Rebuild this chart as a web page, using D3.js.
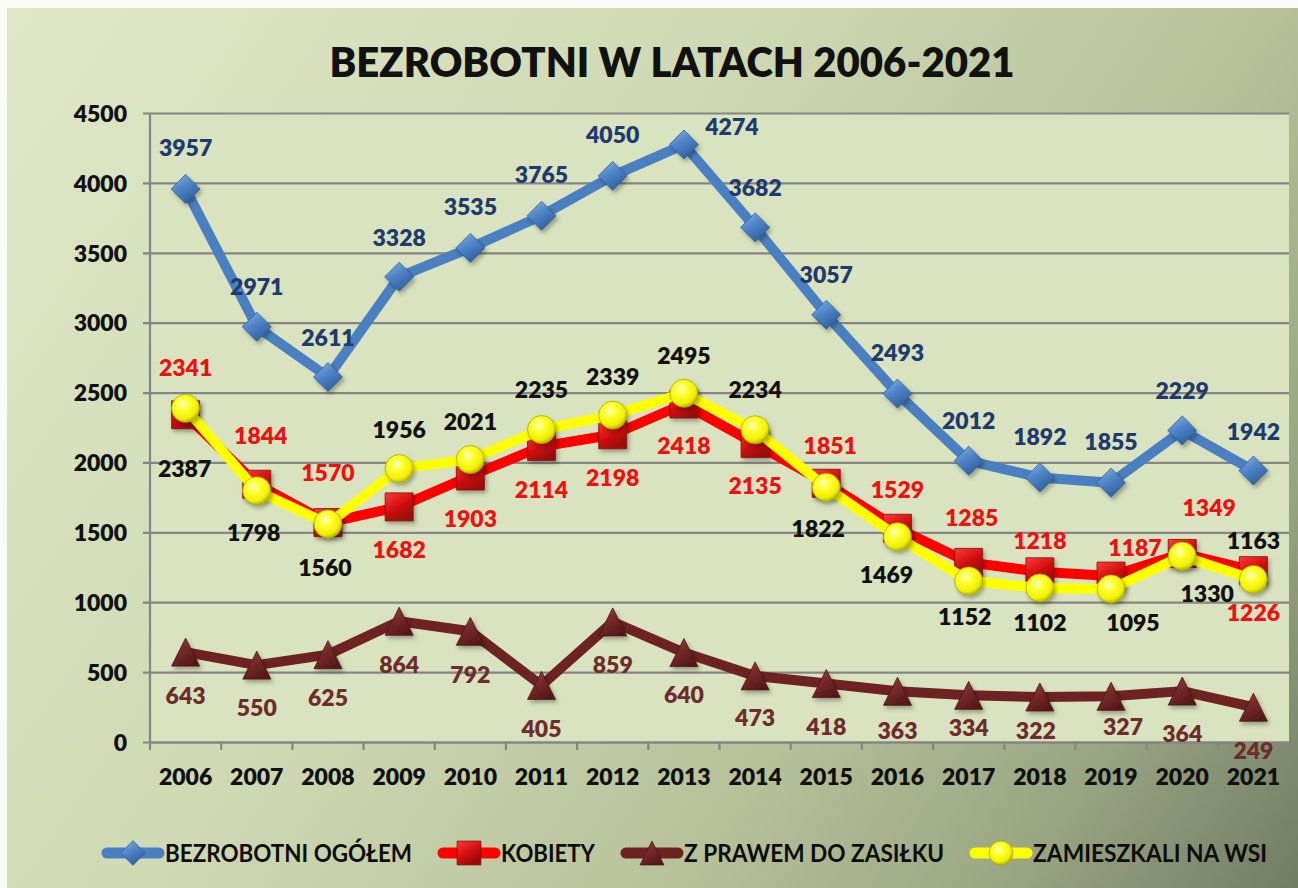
<!DOCTYPE html>
<html>
<head>
<meta charset="utf-8">
<script src="https://cdn.jsdelivr.net/npm/d3@7"></script>
<style>
  html, body { margin: 0; padding: 0; background: #fbfcf7; }
  svg { display: block; }
  text { font-family: Lato, "Open Sans", sans-serif; }
</style>
</head>
<body>
<div id="wrapper"></div>
<script>
// 1. Data

const years = ["2006", "2007", "2008", "2009", "2010", "2011", "2012", "2013",
  "2014", "2015", "2016", "2017", "2018", "2019", "2020", "2021"];

const ogolem = [3957, 2971, 2611, 3328, 3535, 3765, 4050, 4274, 3682, 3057, 2493, 2012, 1892, 1855, 2229, 1942];
const kobiety = [2341, 1844, 1570, 1682, 1903, 2114, 2198, 2418, 2135, 1851, 1529, 1285, 1218, 1187, 1349, 1226];
const zasilek = [643, 550, 625, 864, 792, 405, 859, 640, 473, 418, 363, 334, 322, 327, 364, 249];
const wies = [2387, 1798, 1560, 1956, 2021, 2235, 2339, 2495, 2234, 1822, 1469, 1152, 1102, 1095, 1330, 1163];

const yTicks = [0, 500, 1000, 1500, 2000, 2500, 3000, 3500, 4000, 4500];

const seriesNames = ["BEZROBOTNI OGÓŁEM", "KOBIETY", "Z PRAWEM DO ZASIŁKU", "ZAMIESZKALI NA WSI"];
const title = "BEZROBOTNI W LATACH 2006-2021";

// label placement (dx, dy from the point), copied from the original layout
const ogolemLabelPos = [[0,-41],[0,-40],[0,-39],[0,-39],[0,-41],[0,-41],[0,-41],[48,-18],
  [0,-40],[0,-40],[0,-41],[0,-40],[0,-41],[0,-41],[0,-40],[0,-39]];
const kobietyLabelPos = [[0,-47],[4,-49],[0,-50],[0,43],[0,43],[0,43],[0,43],[0,42],
  [0,42],[4,-38],[0,-39],[3,-45],[0,-31],[24,-28],[27,-46],[0,42]];
const zasilekLabelPos = [[0,44],[0,43],[0,43],[0,43],[0,43],[0,43],[0,43],[0,42],
  [0,42],[0,43],[0,39],[0,32],[-4,34],[12,30],[0,43],[0,44]];
const wiesLabelPos = [[-1,60],[-3,42],[-3,44],[0,-39],[0,-38],[0,-40],[0,-38],[0,-38],
  [0,-40],[-8,41],[-11,38],[-4,36],[0,35],[22,34],[25,38],[0,-39]];

// 2. Dimensions

const dimensions = {
  width: 1298,
  height: 888,
  margin: { top: 113, right: 9, bottom: 146, left: 150 },
};
dimensions.boundedWidth = dimensions.width - dimensions.margin.left - dimensions.margin.right;
dimensions.boundedHeight = dimensions.height - dimensions.margin.top - dimensions.margin.bottom;

// 3. Canvas

const svg = d3.select("#wrapper")
  .append("svg")
    .attr("width", dimensions.width)
    .attr("height", dimensions.height);

const defs = svg.append("defs");

const bgGrad = defs.append("linearGradient")
    .attr("id", "bg")
    .attr("gradientUnits", "userSpaceOnUse")
    .attr("x1", 0).attr("y1", 0)
    .attr("x2", dimensions.width).attr("y2", dimensions.height);
[[0, "#e0e8c8"], [0.4, "#cfd9b3"], [0.68, "#b6c19a"], [0.85, "#99a482"], [1, "#727c63"]]
  .forEach(([o, c]) => bgGrad.append("stop").attr("offset", o).attr("stop-color", c));

const addLinear = (id, stops) => {
  const g = defs.append("linearGradient").attr("id", id)
    .attr("x1", 0).attr("y1", 0).attr("x2", 0.6).attr("y2", 1);
  stops.forEach(([o, c]) => g.append("stop").attr("offset", o).attr("stop-color", c));
};
addLinear("gBlue", [[0, "#8ab4ea"], [0.5, "#4f84c8"], [1, "#2e5f9e"]]);
addLinear("gRed", [[0, "#ff3a3a"], [0.5, "#d81212"], [1, "#9a0808"]]);
addLinear("gBrown", [[0, "#96403e"], [0.5, "#772a2a"], [1, "#561818"]]);

const yel = defs.append("radialGradient").attr("id", "gYellow")
    .attr("cx", 0.4).attr("cy", 0.35).attr("r", 0.65);
[[0, "#ffffc8"], [0.35, "#ffff30"], [0.8, "#f0f000"], [1, "#b8b800"]]
  .forEach(([o, c]) => yel.append("stop").attr("offset", o).attr("stop-color", c));

defs.append("filter").attr("id", "shadow")
    .attr("x", "-50%").attr("y", "-50%").attr("width", "200%").attr("height", "200%")
  .append("feDropShadow")
    .attr("dx", 2).attr("dy", 3).attr("stdDeviation", 2)
    .attr("flood-color", "#000").attr("flood-opacity", 0.3);

svg.append("rect")
    .attr("x", 7).attr("y", 8)
    .attr("width", dimensions.width - 7).attr("height", dimensions.height - 8)
    .attr("fill", "url(#bg)");

svg.append("text")
    .attr("x", 672).attr("y", 62)
    .attr("dy", "0.36em")
    .attr("text-anchor", "middle")
    .attr("font-size", 42)
    .attr("font-weight", 800)
    .attr("fill", "#111")
    .attr("textLength", 685)
    .attr("lengthAdjust", "spacingAndGlyphs")
    .text(title);

const bounds = svg.append("g")
    .attr("transform", `translate(${dimensions.margin.left},${dimensions.margin.top})`);

bounds.append("rect")
    .attr("width", dimensions.boundedWidth)
    .attr("height", dimensions.boundedHeight)
    .attr("fill", "#d9e3bf");

// 4. Scales

const x = d3.scaleBand()
    .domain(years)
    .range([0, dimensions.boundedWidth]);
const cx = i => x(years[i]) + x.bandwidth() / 2;

const y = d3.scaleLinear()
    .domain([0, 4500])
    .range([dimensions.boundedHeight, 0]);

// 5. Axes

const gridColor = "#858585";
const labelWeight = 800;

const yAxis = bounds.append("g")
  .call(d3.axisLeft(y)
    .tickValues(yTicks)
    .tickFormat(d3.format("d"))
    .tickSize(-dimensions.boundedWidth)
    .tickPadding(23));
yAxis.select(".domain").remove();
yAxis.selectAll(".tick line")
    .attr("x1", -7)
    .attr("stroke", gridColor)
    .attr("stroke-width", 2.2);
yAxis.selectAll(".tick text")
    .attr("dy", "0.36em")
    .attr("font-size", 23)
    .attr("font-weight", labelWeight)
    .attr("fill", "#111");

bounds.append("line")
    .attr("x1", 0).attr("x2", 0)
    .attr("y1", 0).attr("y2", dimensions.boundedHeight)
    .attr("stroke", gridColor)
    .attr("stroke-width", 2.2);

const xAxis = bounds.append("g")
    .attr("transform", `translate(0,${dimensions.boundedHeight})`)
  .call(d3.axisBottom(x).tickSize(0));
xAxis.select(".domain")
    .attr("stroke", gridColor)
    .attr("stroke-width", 2.2);
xAxis.selectAll(".tick text")
    .attr("y", 35)
    .attr("dy", "0.36em")
    .attr("font-size", 23)
    .attr("font-weight", labelWeight)
    .attr("fill", "#111");

xAxis.selectAll(".band-tick")
  .data(years.concat([null]))
  .join("line")
    .attr("class", "band-tick")
    .attr("x1", d => d === null ? x.range()[1] : x(d))
    .attr("x2", d => d === null ? x.range()[1] : x(d))
    .attr("y1", 0).attr("y2", 8)
    .attr("stroke", gridColor)
    .attr("stroke-width", 2.2);

// 6. Series

const markers = {
  diamond: s => `M0,${-s}L${s},0L0,${s}L${-s},0Z`,
  square: s => `M${-s},${-s}H${s}V${s}H${-s}Z`,
  triangle: s => `M0,${-s}L${s},${s}L${-s},${s}Z`,
  circle: s => `M${s},0A${s},${s} 0 1,1 ${-s},0A${s},${s} 0 1,1 ${s},0Z`,
};

const series = [
  { name: seriesNames[0], values: ogolem, pos: ogolemLabelPos, line: "#4a7fc1",
    fill: "url(#gBlue)", stroke: "#2f5f9a", marker: "diamond", size: 14.5, label: "#1e3a6e" },
  { name: seriesNames[1], values: kobiety, pos: kobietyLabelPos, line: "#ff0000",
    fill: "url(#gRed)", stroke: "#8a0a0a", marker: "square", size: 14, label: "#ee1111" },
  { name: seriesNames[2], values: zasilek, pos: zasilekLabelPos, line: "#6e2222",
    fill: "url(#gBrown)", stroke: "#4a1414", marker: "triangle", size: 14, label: "#6e2c2c" },
  { name: seriesNames[3], values: wies, pos: wiesLabelPos, line: "#ffff00",
    fill: "url(#gYellow)", stroke: "#a8a800", marker: "circle", size: 14, label: "#111111" },
];

const lineGen = d3.line()
    .x((d, i) => cx(i))
    .y(d => y(d));

series.forEach(s => {
  const g = bounds.append("g");
  g.append("path")
      .attr("d", lineGen(s.values))
      .attr("fill", "none")
      .attr("stroke", s.line)
      .attr("stroke-width", 10)
      .attr("stroke-linejoin", "round");
  g.selectAll(".marker")
    .data(s.values)
    .join("path")
      .attr("class", "marker")
      .attr("transform", (d, i) => `translate(${cx(i)},${y(d)})`)
      .attr("d", markers[s.marker](s.size))
      .attr("fill", s.fill)
      .attr("stroke", s.stroke)
      .attr("stroke-width", 0.8)
      .attr("filter", "url(#shadow)");
});

series.forEach(s => {
  bounds.append("g")
    .selectAll("text")
    .data(s.values)
    .join("text")
      .attr("x", (d, i) => cx(i) + s.pos[i][0])
      .attr("y", (d, i) => y(d) + s.pos[i][1])
      .attr("dy", "0.36em")
      .attr("text-anchor", "middle")
      .attr("font-size", 23)
      .attr("font-weight", labelWeight)
      .attr("fill", s.label)
      .text(d => d);
});

// 7. Legend

const legendWidths = [247, 94, 260, 234];
const legend = svg.append("g")
    .attr("transform", "translate(103,853)");
let lx = 0;
series.forEach((s, i) => {
  const item = legend.append("g").attr("transform", `translate(${lx},0)`);
  item.append("line")
      .attr("x1", 4).attr("x2", 56)
      .attr("stroke", s.line)
      .attr("stroke-width", 11)
      .attr("stroke-linecap", "round");
  item.append("path")
      .attr("transform", "translate(30,0)")
      .attr("d", markers[s.marker](s.size * 0.85))
      .attr("fill", s.fill)
      .attr("stroke", s.stroke)
      .attr("stroke-width", 0.8);
  item.append("text")
      .attr("x", 62)
      .attr("dy", "0.36em")
      .attr("font-size", 25)
      .attr("font-weight", 700)
      .attr("fill", "#0d0d0d")
      .attr("textLength", legendWidths[i])
      .attr("lengthAdjust", "spacingAndGlyphs")
      .text(s.name);
  lx += 62 + legendWidths[i] + 27;
});
</script>
</body>
</html>
